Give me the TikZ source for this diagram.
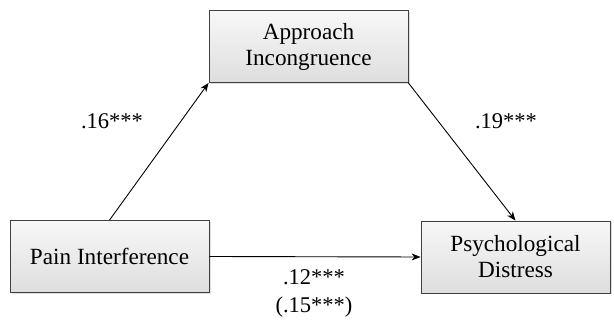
\documentclass[tikz,border=0pt]{standalone}
\usepackage{fontspec}
\setmainfont{Liberation Serif}
\usetikzlibrary{arrows.meta,shadows}
\begin{document}
\begin{tikzpicture}[x=1pt,y=1pt,
  varbox/.style={draw=black!75, line width=0.8pt, top color=gray!6, bottom color=gray!26,
    minimum height=72pt, align=center, inner sep=0pt,
    font=\rmfamily\fontsize{23.2}{26}\selectfont,
    drop shadow={opacity=0.25, shadow xshift=1.5pt, shadow yshift=-1.5pt}},
  path/.style={line width=0.9pt, -{Stealth[length=9pt,width=7pt]}},
  coef/.style={font=\rmfamily\fontsize{22.5}{28}\selectfont, align=center, inner sep=0pt}]
\useasboundingbox (0,0) rectangle (614,321);
\node[varbox, minimum width=199pt] (ai) at (308.5,274.5) {Approach\\Incongruence};
\node[varbox, minimum width=199pt] (pi) at (109.5,64.5) {Pain Interference};
\node[varbox, minimum width=189pt] (pd) at (515.5,64) {Psychological\\Distress};
\draw[path] (pi.north) -- (ai.south west);
\draw[path] (ai.south east) -- (pd.north);
\draw[path] (pi.east) -- (pd.west);
\node[coef, anchor=base] (c1) at (112,192) {.16***};
\node[coef, anchor=base] (c2) at (506,192) {.19***};
\node[coef, anchor=north] (c3) at (314,52) {.12***\\(.15***)};
\end{tikzpicture}
\end{document}
